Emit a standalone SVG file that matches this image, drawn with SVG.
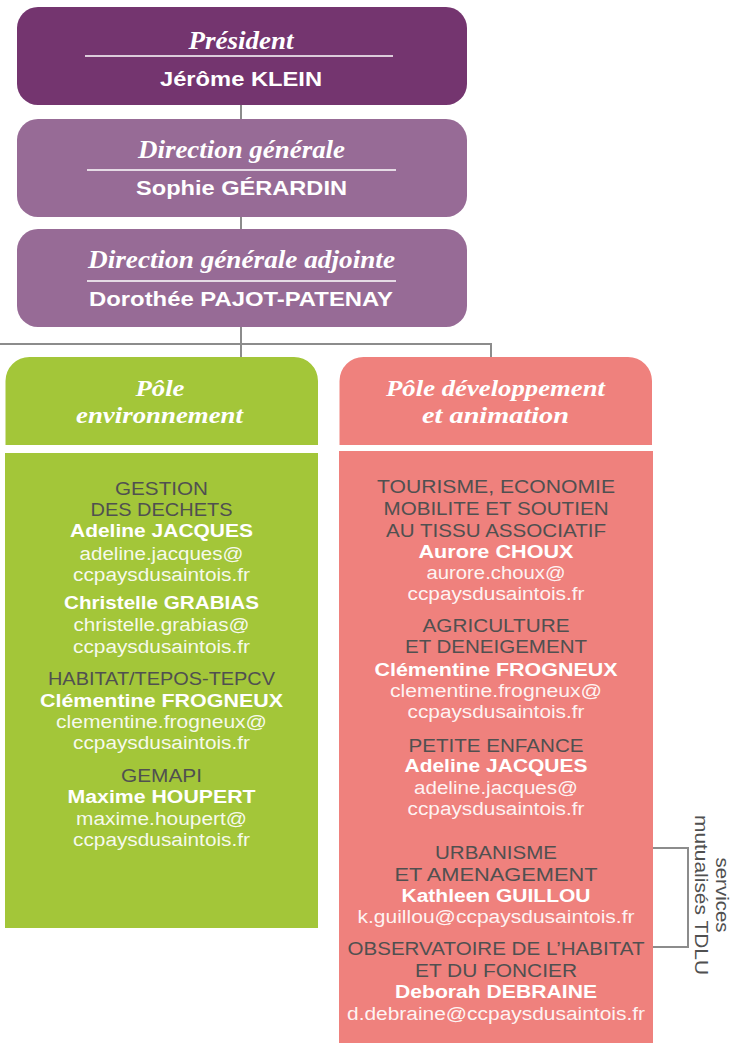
<svg xmlns="http://www.w3.org/2000/svg" width="731" height="1043" viewBox="0 0 731 1043">
<style>
.scr{font-family:"Liberation Serif",serif;font-style:italic;font-weight:bold;font-size:26px;fill:#ffffff;text-anchor:middle}
.hdr{font-family:"Liberation Serif",serif;font-style:italic;font-weight:bold;font-size:23px;fill:#ffffff;text-anchor:middle}
.hn{font-family:"Liberation Sans",Arial,sans-serif;font-weight:bold;font-size:21px;fill:#ffffff;text-anchor:middle}
.cat{font-family:"Liberation Sans",Arial,sans-serif;font-size:18px;fill:#505050;text-anchor:middle}
.nm{font-family:"Liberation Sans",Arial,sans-serif;font-weight:bold;font-size:18px;fill:#ffffff;text-anchor:middle}
.em{font-family:"Liberation Sans",Arial,sans-serif;font-size:18px;fill:#ffffff;fill-opacity:0.92;text-anchor:middle}
.rot{font-family:"Liberation Sans",Arial,sans-serif;font-size:18px;fill:#505050;text-anchor:middle}
.sep{stroke:#ffffff;stroke-width:1.3}
.con{fill:none;stroke:#8c8c8c;stroke-width:2}
</style>
<rect width="731" height="1043" fill="#ffffff"/>
<g id="connectors">
<line class="con" x1="241" y1="105" x2="241" y2="119"/>
<line class="con" x1="241" y1="216" x2="241" y2="230"/>
<line class="con" x1="241" y1="327" x2="241" y2="358"/>
<path class="con" d="M0,344 H491 V358"/>
<path class="con" d="M653,848 H688 V947 H653"/>
</g>
<g id="president">
<rect x="17" y="7" width="450" height="98" rx="21" fill="#74356f"/>
<text class="scr" x="241" y="49" textLength="105" lengthAdjust="spacingAndGlyphs">Président</text>
<line class="sep" x1="85" y1="56" x2="393" y2="56"/>
<text class="hn" x="241" y="86" textLength="162" lengthAdjust="spacingAndGlyphs">Jérôme KLEIN</text>
</g>
<g id="direction-generale">
<rect x="17" y="119" width="450" height="98" rx="21" fill="#976b96"/>
<text class="scr" x="241.5" y="158" textLength="207" lengthAdjust="spacingAndGlyphs">Direction générale</text>
<line class="sep" x1="87" y1="170" x2="396" y2="170"/>
<text class="hn" x="241.5" y="195" textLength="211" lengthAdjust="spacingAndGlyphs">Sophie GÉRARDIN</text>
</g>
<g id="direction-generale-adjointe">
<rect x="17" y="229" width="450" height="98" rx="21" fill="#976b96"/>
<text class="scr" x="241.5" y="268" textLength="307" lengthAdjust="spacingAndGlyphs">Direction générale adjointe</text>
<line class="sep" x1="87" y1="281" x2="396" y2="281"/>
<text class="hn" x="241" y="306" textLength="304" lengthAdjust="spacingAndGlyphs">Dorothée PAJOT-PATENAY</text>
</g>
<g id="pole-environnement">
<path d="M5.5,445 V381 A24,24 0 0 1 29.5,357 H294 A24,24 0 0 1 318,381 V445 Z" fill="#a3c639"/>
<text class="hdr" x="160" y="396" textLength="49" lengthAdjust="spacingAndGlyphs">Pôle</text>
<text class="hdr" x="159.5" y="423" textLength="167" lengthAdjust="spacingAndGlyphs">environnement</text>
<rect x="5" y="453" width="313" height="475" fill="#a3c639"/>
<text class="cat" x="161.5" y="495" textLength="93" lengthAdjust="spacingAndGlyphs">GESTION</text>
<text class="cat" x="161.5" y="516" textLength="142" lengthAdjust="spacingAndGlyphs">DES DECHETS</text>
<text class="nm" x="161.5" y="537" textLength="183" lengthAdjust="spacingAndGlyphs">Adeline JACQUES</text>
<text class="em" x="161.5" y="560" textLength="164" lengthAdjust="spacingAndGlyphs">adeline.jacques@</text>
<text class="em" x="161.5" y="581" textLength="177" lengthAdjust="spacingAndGlyphs">ccpaysdusaintois.fr</text>
<text class="nm" x="161.5" y="609" textLength="195" lengthAdjust="spacingAndGlyphs">Christelle GRABIAS</text>
<text class="em" x="161.5" y="631" textLength="176" lengthAdjust="spacingAndGlyphs">christelle.grabias@</text>
<text class="em" x="161.5" y="653" textLength="177" lengthAdjust="spacingAndGlyphs">ccpaysdusaintois.fr</text>
<text class="cat" x="161.5" y="685" textLength="227" lengthAdjust="spacingAndGlyphs">HABITAT/TEPOS-TEPCV</text>
<text class="nm" x="161.5" y="707" textLength="243" lengthAdjust="spacingAndGlyphs">Clémentine FROGNEUX</text>
<text class="em" x="161.5" y="728" textLength="211" lengthAdjust="spacingAndGlyphs">clementine.frogneux@</text>
<text class="em" x="161.5" y="749" textLength="177" lengthAdjust="spacingAndGlyphs">ccpaysdusaintois.fr</text>
<text class="cat" x="161.5" y="782" textLength="81" lengthAdjust="spacingAndGlyphs">GEMAPI</text>
<text class="nm" x="161.5" y="803" textLength="188" lengthAdjust="spacingAndGlyphs">Maxime HOUPERT</text>
<text class="em" x="161.5" y="825" textLength="171" lengthAdjust="spacingAndGlyphs">maxime.houpert@</text>
<text class="em" x="161.5" y="846" textLength="177" lengthAdjust="spacingAndGlyphs">ccpaysdusaintois.fr</text>
</g>
<g id="pole-developpement">
<path d="M339.5,445 V381 A24,24 0 0 1 363.5,357 H628 A24,24 0 0 1 652,381 V445 Z" fill="#ef817d"/>
<text class="hdr" x="495.5" y="396" textLength="219" lengthAdjust="spacingAndGlyphs">Pôle développement</text>
<text class="hdr" x="495.5" y="423" textLength="147" lengthAdjust="spacingAndGlyphs">et animation</text>
<rect x="339" y="451" width="314" height="592" fill="#ef817d"/>
<text class="cat" x="496" y="493" textLength="238" lengthAdjust="spacingAndGlyphs">TOURISME, ECONOMIE</text>
<text class="cat" x="496" y="515" textLength="225" lengthAdjust="spacingAndGlyphs">MOBILITE ET SOUTIEN</text>
<text class="cat" x="496" y="537" textLength="220" lengthAdjust="spacingAndGlyphs">AU TISSU ASSOCIATIF</text>
<text class="nm" x="496" y="558" textLength="155" lengthAdjust="spacingAndGlyphs">Aurore CHOUX</text>
<text class="em" x="496" y="579" textLength="139" lengthAdjust="spacingAndGlyphs">aurore.choux@</text>
<text class="em" x="496" y="600" textLength="177" lengthAdjust="spacingAndGlyphs">ccpaysdusaintois.fr</text>
<text class="cat" x="496" y="632" textLength="147" lengthAdjust="spacingAndGlyphs">AGRICULTURE</text>
<text class="cat" x="496" y="653" textLength="182" lengthAdjust="spacingAndGlyphs">ET DENEIGEMENT</text>
<text class="nm" x="496" y="676" textLength="243" lengthAdjust="spacingAndGlyphs">Clémentine FROGNEUX</text>
<text class="em" x="496" y="697" textLength="212" lengthAdjust="spacingAndGlyphs">clementine.frogneux@</text>
<text class="em" x="496" y="718" textLength="177" lengthAdjust="spacingAndGlyphs">ccpaysdusaintois.fr</text>
<text class="cat" x="496" y="752" textLength="175" lengthAdjust="spacingAndGlyphs">PETITE ENFANCE</text>
<text class="nm" x="496" y="772" textLength="183" lengthAdjust="spacingAndGlyphs">Adeline JACQUES</text>
<text class="em" x="496" y="794" textLength="164" lengthAdjust="spacingAndGlyphs">adeline.jacques@</text>
<text class="em" x="496" y="815" textLength="177" lengthAdjust="spacingAndGlyphs">ccpaysdusaintois.fr</text>
<text class="cat" x="496" y="859" textLength="122" lengthAdjust="spacingAndGlyphs">URBANISME</text>
<text class="cat" x="496" y="881" textLength="203" lengthAdjust="spacingAndGlyphs">ET AMENAGEMENT</text>
<text class="nm" x="496" y="902" textLength="189" lengthAdjust="spacingAndGlyphs">Kathleen GUILLOU</text>
<text class="em" x="496" y="923" textLength="277" lengthAdjust="spacingAndGlyphs">k.guillou@ccpaysdusaintois.fr</text>
<text class="cat" x="496" y="955" textLength="297" lengthAdjust="spacingAndGlyphs">OBSERVATOIRE DE L’HABITAT</text>
<text class="cat" x="496" y="977" textLength="162" lengthAdjust="spacingAndGlyphs">ET DU FONCIER</text>
<text class="nm" x="496" y="998" textLength="202" lengthAdjust="spacingAndGlyphs">Deborah DEBRAINE</text>
<text class="em" x="496" y="1020" textLength="298" lengthAdjust="spacingAndGlyphs">d.debraine@ccpaysdusaintois.fr</text>
</g>
<g id="services-mutualises">
<text class="rot" transform="translate(716,895) rotate(90)" x="0" y="0" textLength="75" lengthAdjust="spacingAndGlyphs">services</text>
<text class="rot" transform="translate(695,895) rotate(90)" x="0" y="0" textLength="160" lengthAdjust="spacingAndGlyphs">mutualisés TDLU</text>
</g>
</svg>
